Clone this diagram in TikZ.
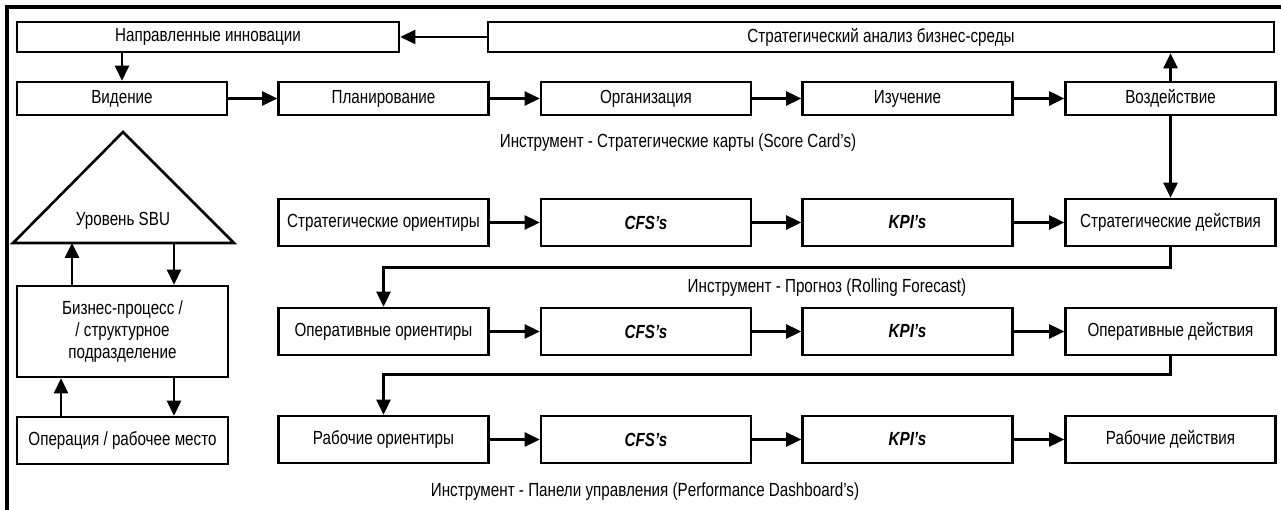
\documentclass[tikz,border=0pt]{standalone}
\usepackage{fontspec}
\setmainfont{Liberation Sans}[FakeStretch=0.8]
\usetikzlibrary{arrows.meta}
\begin{document}
\begin{tikzpicture}[x=1pt,y=-1pt,
  txt/.style={font=\fontsize{19}{22}\selectfont},
  box/.style={draw,line width=2.6pt,rectangle,inner sep=0pt,align=center,txt},
  wide/.style={box,minimum width=210pt,minimum height=47pt},
  thin/.style={box,minimum width=210pt,minimum height=33pt},
  arr/.style={line width=2.6pt,-{Triangle[length=15pt,width=14pt]}},
  ln/.style={line width=2.6pt}]
\useasboundingbox (0,0) rectangle (1281,510);
% frame
\draw[line width=4pt] (7,510) -- (7,7) -- (1281,7);
% top boxes
\node[box,minimum width=382pt,minimum height=30pt] (ni) at (208,37) {Направленные инновации};
\node[box,minimum width=786pt,minimum height=30pt] (sa) at (881,37) {Стратегический анализ бизнес-среды};
% row 1
\node[thin] (vid) at (122,98.5) {Видение};
\node[thin] (plan) at (383.5,98.5) {Планирование};
\node[thin] (org) at (646,98.5) {Организация};
\node[thin] (izu) at (907.5,98.5) {Изучение};
\node[thin] (voz) at (1170.5,98.5) {Воздействие};
% row 2
\node[wide] (so) at (383.5,222.5) {Стратегические ориентиры};
\node[wide] (sc) at (646,222.5) {\textbf{\textit{CFS's}}};
\node[wide] (sk) at (907.5,222.5) {\textbf{\textit{KPI's}}};
\node[wide] (sd) at (1170.5,222.5) {Стратегические действия};
% row 3
\node[wide] (oo) at (383.5,331.5) {Оперативные ориентиры};
\node[wide] (oc) at (646,331.5) {\textbf{\textit{CFS's}}};
\node[wide] (ok) at (907.5,331.5) {\textbf{\textit{KPI's}}};
\node[wide] (od) at (1170.5,331.5) {Оперативные действия};
% row 4
\node[wide] (ro) at (383.5,439.5) {Рабочие ориентиры};
\node[wide] (rc) at (646,439.5) {\textbf{\textit{CFS's}}};
\node[wide] (rk) at (907.5,439.5) {\textbf{\textit{KPI's}}};
\node[wide] (rd) at (1170.5,439.5) {Рабочие действия};
% labels
\node[txt] (l1) at (678,143) {Инструмент - Стратегические карты (Score Card's)};
\node[txt] (l2) at (827,288) {Инструмент - Прогноз (Rolling Forecast)};
\node[txt] (l3) at (645,492) {Инструмент - Панели управления (Performance Dashboard's)};
% left column
\coordinate (tl) at (13,243);
\coordinate (tr) at (234,243);
\coordinate (ta) at (123,132);
\draw[line width=2.6pt,line join=miter] (tl) -- (ta) -- (tr) -- cycle;
\node[txt] (sbu) at (123,221) {Уровень SBU};
\node[box,minimum width=211pt,minimum height=91pt] (bp) at (122.5,331.5) {Бизнес-процесс /\\/ структурное\\подразделение};
\node[box,minimum width=211pt,minimum height=47pt] (op) at (122.5,440.5) {Операция / рабочее место};
% connectors
\draw[arr] (vid.north |- ni.south) -- (vid.north);
\draw[arr] (sa.west) -- (ni.east);
\draw[arr] (vid) -- (plan);
\draw[arr] (plan) -- (org);
\draw[arr] (org) -- (izu);
\draw[arr] (izu) -- (voz);
\draw[arr] (voz.north) -- (voz.north |- sa.south);
\draw[arr] (voz.south) -- (sd.north);
\draw[arr] (so) -- (sc);
\draw[arr] (sc) -- (sk);
\draw[arr] (sk) -- (sd);
\draw[arr] (oo) -- (oc);
\draw[arr] (oc) -- (ok);
\draw[arr] (ok) -- (od);
\draw[arr] (ro) -- (rc);
\draw[arr] (rc) -- (rk);
\draw[arr] (rk) -- (rd);
\draw[arr] (sd.south) -- ++(0,20) -| (oo.north);
\draw[arr] (od.south) -- ++(0,18) -| (ro.north);
\draw[arr] (bp.north -| 72,0) -- (tl -| 72,0);
\draw[arr] (tl -| 174,0) -- (bp.north -| 174,0);
\draw[arr] (op.north -| 61,0) -- (bp.south -| 61,0);
\draw[arr] (bp.south -| 174,0) -- (op.north -| 174,0);
\end{tikzpicture}
\end{document}
